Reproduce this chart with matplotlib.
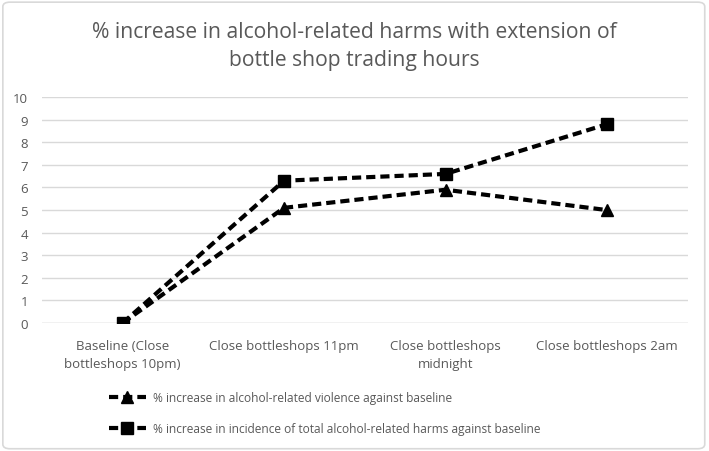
import matplotlib.pyplot as plt
from matplotlib.patches import FancyBboxPatch

categories = ['Baseline (Close\nbottleshops 10pm)', 'Close bottleshops 11pm',
              'Close bottleshops\nmidnight', 'Close bottleshops 2am']
violence = [0, 5.1, 5.9, 5.0]
total_harms = [0, 6.3, 6.6, 8.8]
labels = ['% increase in alcohol-related violence against baseline',
          '% increase in incidence of total alcohol-related harms against baseline']

plt.rcParams['font.family'] = ['Open Sans', 'DejaVu Sans']
grey = '#595959'

fig = plt.figure(figsize=(7.09, 4.52), dpi=100)
ax = fig.add_axes([0.059, 0.283, 0.911, 0.5])

x = range(len(categories))
l1, = ax.plot(x, violence, color='black', lw=3, ls=(0, (2.2, 1.2)),
              marker='^', ms=8, label=labels[0])
l2, = ax.plot(x, total_harms, color='black', lw=3, ls=(0, (2.2, 1.2)),
              marker='s', ms=8, label=labels[1])

ax.set_xlim(-0.5, 3.5)
ax.set_ylim(0, 10)
ax.set_yticks(range(0, 11))
ax.set_xticks(list(x))
ax.set_xticklabels(categories, fontsize=9.5, color=grey, linespacing=1.5)
ax.tick_params(axis='y', labelsize=9.5, colors=grey, length=0, pad=10)
ax.tick_params(axis='x', length=0, pad=11.5)
ax.grid(axis='y', color='#d9d9d9', lw=1)
ax.set_axisbelow(True)
for s in ax.spines.values():
    s.set_visible(False)
ax.axhline(0, color='#d9d9d9', lw=1, zorder=0)

fig.text(0.5, 0.897, '% increase in alcohol-related harms with extension of\nbottle shop trading hours',
         ha='center', va='center', fontsize=15.2, color=grey, linespacing=1.45)

fig.legend(handles=[l1, l2], loc='lower left', bbox_to_anchor=(0.138, 0.012),
           frameon=False, fontsize=8.6, labelcolor=grey, handlelength=3.1,
           handletextpad=0.6, labelspacing=1.5)

border = FancyBboxPatch((0.004, 0.005), 0.99, 0.988, boxstyle='round,pad=0,rounding_size=0.01',
                        transform=fig.transFigure, fill=False, ec='#d9d9d9', lw=1.2)
fig.patches.append(border)

fig.savefig('out.png', dpi=100)
